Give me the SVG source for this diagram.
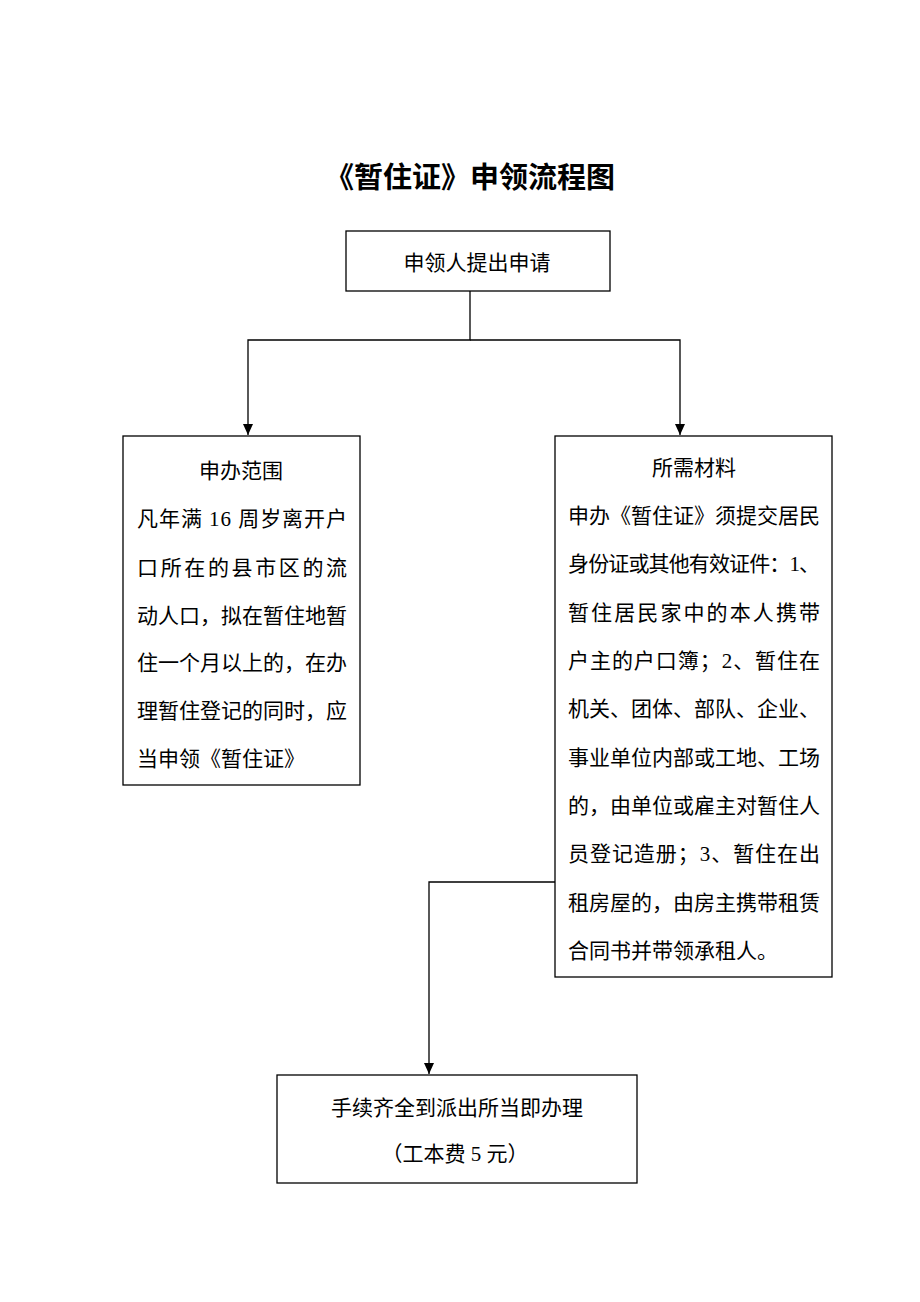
<svg xmlns="http://www.w3.org/2000/svg" width="920" height="1302" viewBox="0 0 920 1302">
<style>
.box{fill:#fff;stroke:#000;stroke-width:1.3}
.t{font-family:"Liberation Serif","Noto Sans CJK SC",serif;font-size:21px;fill:#000}
.c{text-anchor:middle}
.title{font-family:"Liberation Sans","Noto Sans CJK SC",sans-serif;font-size:29px;font-weight:bold;text-anchor:middle;fill:#000}
.ln{fill:none;stroke:#000;stroke-width:1.3}
</style>
<defs>
<marker id="arr" markerWidth="12" markerHeight="12" refX="11" refY="6" orient="auto" markerUnits="userSpaceOnUse">
<path d="M0,1 L11,6 L0,11 Z" fill="#000"/>
</marker>
</defs>
<rect width="920" height="1302" fill="#fff"/>
<text class="title" x="470" y="188">《暂住证》申领流程图</text>
<g id="connectors">
<polyline class="ln" points="470,291 470,340 248,340 248,435" marker-end="url(#arr)"/>
<polyline class="ln" points="470,340 680,340 680,435" marker-end="url(#arr)"/>
<polyline class="ln" points="555,882 429,882 429,1074" marker-end="url(#arr)"/>
</g>
<g id="n1">
<rect class="box" x="346" y="231" width="264" height="60"/>
<text class="t c" x="477" y="270">申领人提出申请</text>
</g>
<g id="n2">
<rect class="box" x="123" y="436" width="237" height="349"/>
<text class="t c" x="241" y="478">申办范围</text>
<text class="t" x="137" y="526" textLength="210" lengthAdjust="spacing">凡年满 16 周岁离开户</text>
<text class="t" x="137" y="575" textLength="210" lengthAdjust="spacing">口所在的县市区的流</text>
<text class="t" x="137" y="623" textLength="210" lengthAdjust="spacing">动人口，拟在暂住地暂</text>
<text class="t" x="137" y="670" textLength="210" lengthAdjust="spacing">住一个月以上的，在办</text>
<text class="t" x="137" y="718" textLength="210" lengthAdjust="spacing">理暂住登记的同时，应</text>
<text class="t" x="137" y="766">当申领《暂住证》</text>
</g>
<g id="n3">
<rect class="box" x="555" y="436" width="277" height="541"/>
<text class="t c" x="694" y="475">所需材料</text>
<text class="t" x="568" y="523" textLength="252" lengthAdjust="spacing">申办《暂住证》须提交居民</text>
<text class="t" x="568" y="571" textLength="252" lengthAdjust="spacing">身份证或其他有效证件：1、</text>
<text class="t" x="568" y="620" textLength="252" lengthAdjust="spacing">暂住居民家中的本人携带</text>
<text class="t" x="568" y="668" textLength="252" lengthAdjust="spacing">户主的户口簿；2、暂住在</text>
<text class="t" x="568" y="716" textLength="252" lengthAdjust="spacing">机关、团体、部队、企业、</text>
<text class="t" x="568" y="765" textLength="252" lengthAdjust="spacing">事业单位内部或工地、工场</text>
<text class="t" x="568" y="813" textLength="252" lengthAdjust="spacing">的，由单位或雇主对暂住人</text>
<text class="t" x="568" y="861" textLength="252" lengthAdjust="spacing">员登记造册；3、暂住在出</text>
<text class="t" x="568" y="910" textLength="252" lengthAdjust="spacing">租房屋的，由房主携带租赁</text>
<text class="t" x="568" y="958">合同书并带领承租人。</text>
</g>
<g id="n4">
<rect class="box" x="277" y="1075" width="360" height="108"/>
<text class="t c" x="457" y="1115">手续齐全到派出所当即办理</text>
<text class="t c" x="455" y="1161">（工本费 5 元）</text>
</g>
</svg>
